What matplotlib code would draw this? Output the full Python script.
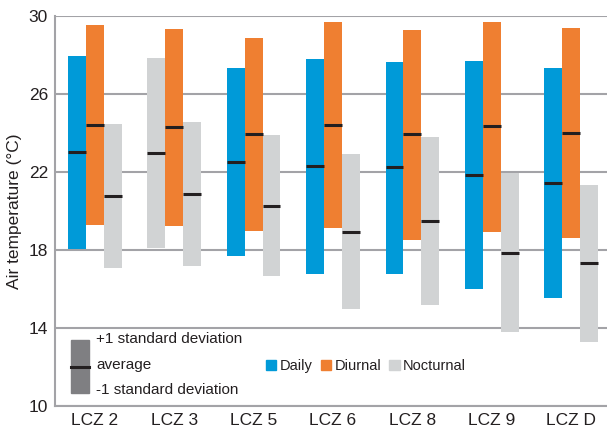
import numpy as np
import matplotlib
matplotlib.use('Agg')
import matplotlib.pyplot as plt
from matplotlib.patches import Rectangle, Patch

plt.rcParams['font.family'] = ['Liberation Sans', 'DejaVu Sans']

# Data: mean and +/-1 standard deviation bounds (deg C)
zones = ['LCZ 2', 'LCZ 3', 'LCZ 5', 'LCZ 6', 'LCZ 8', 'LCZ 9', 'LCZ D']

daily_low = [18.06, 18.11, 17.70, 16.78, 16.78, 16.01, 15.55]
daily_avg = [23.00, 22.97, 22.51, 22.32, 22.24, 21.86, 21.45]
daily_high = [27.95, 27.85, 27.33, 27.79, 27.64, 27.69, 27.33]

diurnal_low = [19.29, 19.24, 18.98, 19.14, 18.52, 18.93, 18.63]
diurnal_avg = [24.42, 24.30, 23.93, 24.42, 23.93, 24.34, 23.98]
diurnal_high = [29.54, 29.33, 28.87, 29.69, 29.28, 29.69, 29.38]

nocturnal_low = [17.09, 17.19, 16.68, 14.98, 15.19, 13.80, 13.29]
nocturnal_avg = [20.76, 20.87, 20.27, 18.93, 19.50, 17.86, 17.34]
nocturnal_high = [24.46, 24.56, 23.89, 22.92, 23.81, 21.94, 21.33]

blue = '#009ad8'
orange = '#ef7f31'
lgray = '#d1d3d4'
txt = '#231f20'
grid_c = '#a3a3a7'

fig = plt.figure(figsize=(6.07, 4.30), dpi=100)
ax = fig.add_axes([55 / 607, 24.3 / 430, 556 / 607, 389.7 / 430])

x = np.arange(len(zones))
w = 0.226
# the LCZ 3 daily bar is drawn grey in the original figure
daily_colors = [blue, lgray, blue, blue, blue, blue, blue]

series = [
    (-w, daily_low, daily_avg, daily_high, daily_colors),
    (0, diurnal_low, diurnal_avg, diurnal_high, orange),
    (w, nocturnal_low, nocturnal_avg, nocturnal_high, lgray),
]

for off, lo, avg, hi, col in series:
    lo = np.array(lo)
    hi = np.array(hi)
    ax.bar(x + off, hi - lo, bottom=lo, width=w, color=col, zorder=3)
    ax.hlines(avg, x + off - w / 2, x + off + w / 2, color=txt, lw=2.2, zorder=4)

ax.set_xlim(-0.5, 6.5)
ax.set_ylim(10, 30)
ax.set_yticks([10, 14, 18, 22, 26, 30])
ax.set_xticks(x)
ax.set_xticklabels(zones)
ax.tick_params(length=0, labelsize=12.5, colors=txt, pad=5)
ax.tick_params(axis='x', pad=5)
ax.yaxis.grid(True, color=grid_c, lw=1.5, zorder=1)
for s in ['top', 'right']:
    ax.spines[s].set_visible(False)
for s in ['left', 'bottom']:
    ax.spines[s].set_color(grid_c)
    ax.spines[s].set_linewidth(1.5)
ax.set_ylabel('Air temperature (\u00b0C)', fontsize=12.5, color=txt, labelpad=5)

# key for the bar meaning
fig.patches.append(Rectangle((71 / 607, 1 - 393.3 / 430), 18 / 607, 53.3 / 430,
                             transform=fig.transFigure, color='#7f7f82', zorder=5))
fig.lines.append(plt.Line2D([71 / 607, 89 / 607], [1 - 366.7 / 430] * 2,
                            transform=fig.transFigure, color=txt, lw=2.2, zorder=6))
for ty, label in [(339, '+1 standard deviation'), (365, 'average'), (390, '-1 standard deviation')]:
    fig.text(96 / 607, 1 - ty / 430, label, fontsize=11, color=txt, va='center', ha='left')

handles = [Patch(color=blue, label='Daily'), Patch(color=orange, label='Diurnal'),
           Patch(color=lgray, label='Nocturnal')]
leg = fig.legend(handles=handles, loc='center left', bbox_to_anchor=(266 / 607, 1 - 366 / 430),
                 ncol=3, frameon=False, fontsize=10.5, handlelength=0.7, handleheight=0.7,
                 handletextpad=0.25, columnspacing=0.55, borderpad=0, borderaxespad=0)
for t in leg.get_texts():
    t.set_color(txt)

fig.savefig('out.png', dpi=100)
